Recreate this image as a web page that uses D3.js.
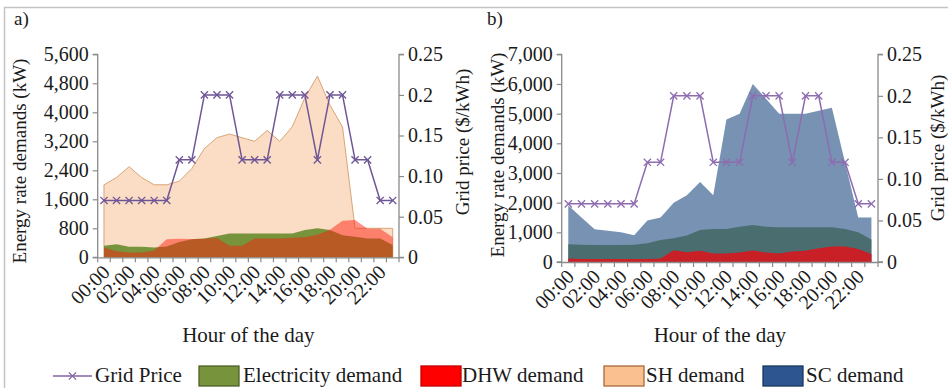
<!DOCTYPE html>
<html>
<head>
<meta charset="utf-8">
<script src="https://cdn.jsdelivr.net/npm/d3@7/dist/d3.min.js"></script>
<style>
  html, body { margin: 0; padding: 0; background: #fff; }
  svg { display: block; }
  svg text { font-family: "Liberation Serif", "Times New Roman", Tinos, "DejaVu Serif", serif !important; fill: #1a1a1a; }
</style>
</head>
<body>
<svg id="fig" width="948" height="388"></svg>
<script>
// Hour categories and tick labels
const hourLabels = ["00:00","01:00","02:00","03:00","04:00","05:00","06:00","07:00",
                    "08:00","09:00","10:00","11:00","12:00","13:00","14:00","15:00",
                    "16:00","17:00","18:00","19:00","20:00","21:00","22:00","23:00"];
const shownHourLabels = ["00:00","02:00","04:00","06:00","08:00","10:00",
                         "12:00","14:00","16:00","18:00","20:00","22:00"];

// Grid price ($/kWh), same tariff in both panels
const gridPrice = [0.07,0.07,0.07,0.07,0.07,0.07,0.12,0.12,0.2,0.2,0.2,0.12,
                   0.12,0.12,0.2,0.2,0.2,0.12,0.2,0.2,0.12,0.12,0.07,0.07];

// Panel a) demands (kW)
const shDemandA = [2000,2200,2500,2200,2000,2000,2100,2450,3000,3300,3400,3300,
                   3200,3500,3200,3600,4400,5000,4200,3600,800,800,800,800];
const electricityA = [320,360,290,290,270,300,420,500,520,590,660,660,
                      660,660,660,660,750,800,750,610,570,520,520,340];
const dhwA = [270,170,130,130,190,500,515,505,510,530,320,320,
              520,520,520,540,550,620,760,1010,1030,790,790,550];

// Panel b) demands (kW)
const scDemandB = [1900,1500,1100,1050,1000,900,1400,1500,2000,2250,2700,2250,
                   4800,5000,6000,5500,5000,5000,5000,5100,5200,3350,1500,1500];
const electricityB = [600,580,570,570,570,580,630,740,800,890,1080,1110,
                      1110,1190,1250,1190,1170,1170,1170,1170,1170,1110,1000,760];
const dhwB = [120,100,100,100,100,100,100,120,400,330,380,290,
              290,320,390,320,290,350,380,460,520,520,440,270];

// Axis tick values
const leftTicksA = [0,800,1600,2400,3200,4000,4800,5600];
const leftTicksB = [0,1000,2000,3000,4000,5000,6000,7000];
const priceTicks = [0,0.05,0.10,0.15,0.2,0.25];
const priceTickLabels = ["0","0.05","0.10","0.15","0.2","0.25"];

const svg = d3.select("#fig");
const axisColor = "#8a8a8a";
const priceColor = "#8064A2";
const serif = '"Liberation Serif", "Times New Roman", Tinos, "DejaVu Serif", serif';

// outer frame
svg.append("line").attr("x1",4).attr("x2",948).attr("y1",7.5).attr("y2",7.5)
   .attr("stroke","#c4c4c4").attr("stroke-width",1.5);
svg.append("line").attr("x1",4.5).attr("x2",4.5).attr("y1",7).attr("y2",388)
   .attr("stroke","#c4c4c4").attr("stroke-width",1.5);

function panel(opt) {
  const g = svg.append("g");
  const x = d3.scaleBand().domain(hourLabels).range([opt.left, opt.right]).paddingInner(0).paddingOuter(0);
  const cx = d => x(d) + x.bandwidth() / 2;
  const y = d3.scaleLinear().domain([0, opt.yMax]).range([opt.bottom, opt.top]);
  const yp = d3.scaleLinear().domain([0, 0.25]).range([opt.bottom, opt.top]);

  // demand areas, in drawing order
  opt.layers.forEach(L => {
    const area = d3.area()
      .x((d, i) => cx(hourLabels[i]))
      .y0(y(0))
      .y1(d => y(d));
    g.append("path").datum(L.values)
      .attr("d", area)
      .attr("fill", L.fill)
      .attr("fill-opacity", L.opacity == null ? 1 : L.opacity)
      .attr("stroke", L.stroke || "none")
      .attr("stroke-width", L.strokeWidth || 0);
  });

  // left axis
  const yAxis = d3.axisLeft(y).tickValues(opt.leftTicks).tickFormat(d3.format(",")).tickSize(5).tickPadding(4);
  const ga = g.append("g").attr("transform", `translate(${opt.left},0)`).call(yAxis);
  // right axis
  const pAxis = d3.axisRight(yp).tickValues(priceTicks).tickFormat((d, i) => priceTickLabels[i]).tickSize(5).tickPadding(4);
  const gp = g.append("g").attr("transform", `translate(${opt.right},0)`).call(pAxis);
  // bottom axis: labels at category centres
  const xAxis = d3.axisBottom(x).tickValues(shownHourLabels).tickSize(0).tickPadding(0);
  const gx = g.append("g").attr("transform", `translate(0,${opt.bottom})`).call(xAxis);
  gx.selectAll(".tick text")
    .attr("text-anchor", "end")
    .attr("dy", 0)
    .attr("transform", "translate(7,16) rotate(-45)");
  // bottom axis: tick marks on category boundaries
  const bounds = hourLabels.map(h => x(h)).concat([opt.right]);
  gx.selectAll("line.bnd").data(bounds).enter().append("line")
    .attr("class","bnd")
    .attr("x1", d => d).attr("x2", d => d).attr("y1", 0).attr("y2", 5)
    .attr("stroke", axisColor).attr("stroke-width", 1.2);

  [ga, gp, gx].forEach(a => {
    a.attr("font-family", serif);
    a.selectAll(".domain").attr("stroke", axisColor).attr("stroke-width", 1.3);
    a.selectAll(".tick line").attr("stroke", axisColor).attr("stroke-width", 1.2);
    a.selectAll(".tick text").style("font-size", "20px").attr("fill", "#1a1a1a");
  });
  ga.select(".domain").attr("d", `M-5,${opt.bottom}H0V${opt.top}H-5`);
  gp.select(".domain").attr("d", `M5,${opt.bottom}H0V${opt.top}H5`);

  // grid price line with × markers
  const line = d3.line().x((d, i) => cx(hourLabels[i])).y(d => yp(d));
  g.append("path").datum(gridPrice).attr("d", line)
    .attr("fill","none").attr("stroke", opt.priceStroke).attr("stroke-width",1.5);
  const s = 3.6;
  g.selectAll("path.mk").data(gridPrice).enter().append("path")
    .attr("class","mk")
    .attr("d", (d, i) => {
      const px = cx(hourLabels[i]), py = yp(d);
      return `M${px-s},${py-s}L${px+s},${py+s}M${px-s},${py+s}L${px+s},${py-s}`;
    })
    .attr("stroke", opt.priceStroke).attr("stroke-width",1.3).attr("fill","none");

  // titles
  g.append("text").text(opt.tag).attr("x", opt.tagX).attr("y", 25).style("font-size","19px");
  g.append("text").text("Energy rate demands (kW)")
    .attr("transform", `translate(${opt.leftTitleX},${opt.leftTitleY}) rotate(-90)`)
    .attr("text-anchor","middle").style("font-size","19px");
  g.append("text").text("Grid price ($/kWh)")
    .attr("transform", `translate(${opt.rightTitleX},${opt.rightTitleY}) rotate(-90)`)
    .attr("text-anchor","middle").style("font-size","19px");
  g.append("text").text("Hour of the day")
    .attr("x", (opt.left + opt.right) / 2).attr("y", 342)
    .attr("text-anchor","middle").style("font-size","21px");
}

panel({
  left: 97.7, right: 399, top: 54.3, bottom: 257.3, yMax: 5600,
  leftTicks: leftTicksA, tag: "a)", tagX: 14,
  leftTitleX: 26, leftTitleY: 161, rightTitleX: 469, rightTitleY: 142,
  priceStroke: "#6E5696",
  layers: [
    { values: shDemandA, fill: "#FBDCC4", stroke: "#D8A677", strokeWidth: 1 },
    { values: electricityA, fill: "#77933C" },
    { values: dhwA, fill: "#FF1A0A", opacity: 0.47 }
  ]
});

panel({
  left: 561.7, right: 878, top: 54.3, bottom: 262, yMax: 7000,
  leftTicks: leftTicksB, tag: "b)", tagX: 487,
  leftTitleX: 504, leftTitleY: 155, rightTitleX: 944, rightTitleY: 148,
  priceStroke: "#8E6CB0",
  layers: [
    { values: scDemandB, fill: "#7792B3" },
    { values: electricityB, fill: "#4A6E70" },
    { values: dhwB, fill: "#C91F26" }
  ]
});

// legend
const legend = svg.append("g").style("font-size","21px");
const ly = 376;
legend.append("line").attr("x1",53).attr("x2",92).attr("y1",ly).attr("y2",ly)
  .attr("stroke", priceColor).attr("stroke-width",1.5);
legend.append("path").attr("d",`M${72.5-3.6},${ly-3.6}L${72.5+3.6},${ly+3.6}M${72.5-3.6},${ly+3.6}L${72.5+3.6},${ly-3.6}`)
  .attr("stroke", priceColor).attr("stroke-width",1.3);
legend.append("text").text("Grid Price").attr("x",95).attr("y",382);

const swatches = [
  { x: 199, fill: "#77933C", stroke: "#4F6228", label: "Electricity demand", tx: 243 },
  { x: 421, fill: "#FF0000", stroke: "#C00000", label: "DHW demand", tx: 462 },
  { x: 604, fill: "#FAC090", stroke: "#A8693A", label: "SH demand", tx: 646 },
  { x: 763, fill: "#2D5690", stroke: "#17375E", label: "SC demand", tx: 806 }
];
swatches.forEach(sw => {
  legend.append("rect").attr("x", sw.x).attr("y", 366).attr("width", 40).attr("height", 20)
    .attr("fill", sw.fill).attr("stroke", sw.stroke).attr("stroke-width", 1.3);
  legend.append("text").text(sw.label).attr("x", sw.tx).attr("y", 382);
});
</script>
</body>
</html>
